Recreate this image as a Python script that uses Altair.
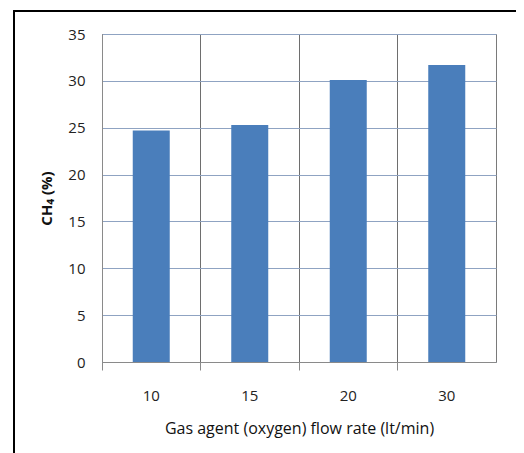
import altair as alt
import pandas as pd

flow = ["10", "15", "20", "30"]
ch4 = [24.7, 25.3, 30.1, 31.7]
y_ticks = [0, 5, 10, 15, 20, 25, 30, 35]

df = pd.DataFrame({"flow": flow, "ch4": ch4})

FONT = "Open Sans"

bars = alt.Chart(df).mark_bar(size=37, color="#4A7EBB").encode(
    x=alt.X(
        "flow:N",
        sort=flow,
        scale=alt.Scale(paddingInner=0, paddingOuter=0),
        axis=alt.Axis(
            title="Gas agent (oxygen) flow rate (lt/min)",
            labelAngle=0,
            bandPosition=0,
            grid=True,
            gridColor="#6E6E6E",
            gridWidth=1,
            tickSize=8,
            tickColor="#8A8A8A",
            domainColor="#8A8A8A",
            labelPadding=18,
            titlePadding=17,
            labelFont=FONT,
            labelFontSize=15,
            labelColor="#222222",
            titleFont=FONT,
            titleFontSize=16,
            titleFontWeight="normal",
            titleColor="#111111",
        ),
    ),
    y=alt.Y(
        "ch4:Q",
        scale=alt.Scale(domain=[0, 35], nice=False),
        axis=alt.Axis(
            title="CH₄ (%)",
            values=y_ticks,
            grid=True,
            gridColor="#8FA3C2",
            gridWidth=1,
            tickSize=0,
            domainColor="#8A8A8A",
            labelPadding=17,
            titlePadding=13,
            labelFont=FONT,
            labelFontSize=15,
            labelColor="#222222",
            titleFont=FONT,
            titleFontSize=15,
            titleFontWeight="bold",
            titleColor="#111111",
        ),
    ),
)

frame = alt.Chart(df).mark_rect(fill=None, stroke="#000000", strokeWidth=1.5).encode(
    x=alt.value(-88), x2=alt.value(440), y=alt.value(-23), y2=alt.value(440)
)

chart = (
    alt.layer(bars, frame)
    .properties(
        width=394,
        height=328,
        autosize=alt.AutoSizeParams(type="none"),
        padding={"left": 94, "top": 26, "right": 20, "bottom": 92},
        background="white",
    )
    .configure_view(stroke="#7A7A7A", strokeWidth=1)
)

chart.save("out.html", embed_options={"renderer": "svg", "actions": False})
